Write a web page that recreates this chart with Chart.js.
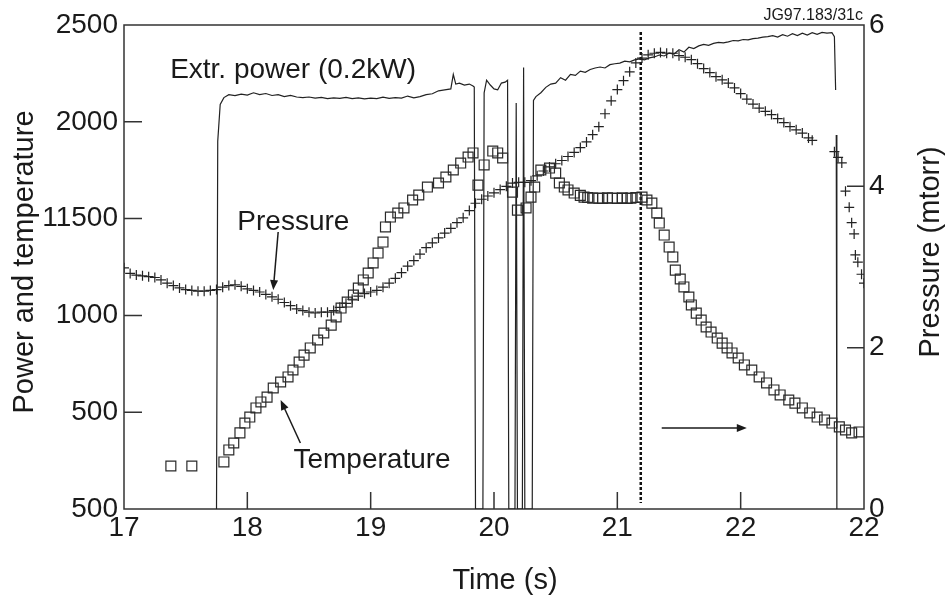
<!DOCTYPE html>
<html><head><meta charset="utf-8">
<script src="https://cdn.jsdelivr.net/npm/chart.js@4.4.1/dist/chart.umd.min.js"></script>
<style>html,body{margin:0;padding:0;background:#fff;overflow:hidden}</style>
</head><body>
<canvas id="c" width="946" height="600" style="display:block;width:946px;height:600px"></canvas>
<script>
// ---- tick labels (as printed on the figure) ----
const xTickValues = [17, 18, 19, 20, 21, 22, 23];
const xTickLabels = ['17', '18', '19', '20', '21', '22', '22'];
const leftTickValues = [0, 500, 1000, 1500, 2000, 2500];
const leftTickLabels = ['500', '500', '1000', '11500', '2000', '2500'];
const rightTickValues = [0, 2, 4, 6];
const rightTickLabels = ['0', '2', '4', '6'];

// ---- Extr. power (left axis units) ----
const powerTime = [17.75,17.76,17.78,17.81,17.85,17.90,17.95,18.00,18.05,18.10,18.15,18.20,18.25,18.30,18.35,18.40,18.45,18.50,18.55,18.60,18.65,18.70,18.75,18.80,18.85,18.90,18.95,19.00,19.05,19.10,19.15,19.20,19.25,19.30,19.35,19.40,19.45,19.50,19.55,19.60,19.65,19.67,19.69,19.72,19.76,19.80,19.83,19.84,19.85,19.91,19.92,19.94,19.97,20.00,20.03,20.06,20.09,20.11,20.12,20.17,20.18,20.19,20.23,20.24,20.25,20.31,20.32,20.34,20.38,20.42,20.46,20.50,20.54,20.58,20.62,20.66,20.70,20.74,20.78,20.82,20.86,20.90,20.94,20.98,21.02,21.06,21.10,21.14,21.18,21.22,21.26,21.30,21.34,21.38,21.42,21.46,21.50,21.54,21.58,21.62,21.66,21.70,21.74,21.78,21.82,21.86,21.90,21.94,21.98,22.02,22.06,22.10,22.14,22.18,22.22,22.26,22.30,22.34,22.38,22.42,22.46,22.50,22.54,22.58,22.62,22.66,22.70,22.74,22.76,22.77,22.772,22.775,22.78];
const powerValue = [0,1900,2090,2125,2140,2135,2143,2138,2150,2140,2146,2136,2140,2130,2136,2128,2125,2128,2122,2126,2120,2124,2121,2126,2120,2124,2118,2122,2120,2127,2121,2125,2122,2133,2124,2130,2140,2145,2160,2165,2170,2245,2195,2200,2190,2195,2185,2180,0,0,2150,2215,2190,2170,2165,2200,2205,2215,0,0,2097,0,0,2280,0,0,2110,2130,2150,2178,2195,2200,2228,2215,2245,2240,2262,2256,2270,2278,2283,2278,2295,2300,2303,2313,2310,2320,2325,2320,2330,2335,2345,2340,2355,2350,2372,2360,2385,2378,2392,2400,2395,2405,2410,2408,2413,2420,2418,2425,2423,2430,2432,2437,2440,2445,2438,2450,2442,2455,2445,2458,2448,2460,2452,2462,2458,2460,2440,2164,null,1932,0];

// ---- Pressure (mtorr, right axis) ----
const pressureTime = [17.00,17.05,17.10,17.15,17.20,17.25,17.30,17.35,17.40,17.45,17.50,17.55,17.60,17.65,17.70,17.75,17.80,17.85,17.90,17.95,18.00,18.05,18.10,18.15,18.20,18.25,18.30,18.35,18.40,18.45,18.50,18.55,18.60,18.65,18.70,18.75,18.80,18.85,18.90,18.95,19.00,19.05,19.10,19.15,19.20,19.25,19.30,19.35,19.40,19.45,19.50,19.55,19.60,19.65,19.70,19.75,19.80,19.85,19.90,19.95,20.00,20.05,20.10,20.15,20.20,20.25,20.30,20.35,20.40,20.45,20.50,20.55,20.60,20.65,20.70,20.75,20.80,20.85,20.90,20.95,21.00,21.05,21.10,21.15,21.20,21.25,21.30,21.35,21.40,21.45,21.50,21.55,21.60,21.65,21.70,21.75,21.80,21.85,21.90,21.95,22.00,22.05,22.10,22.15,22.20,22.25,22.30,22.35,22.40,22.45,22.50,22.55,22.58,22.76,22.79,22.82,22.85,22.88,22.90,22.92,22.93,22.95,22.98,23.00];
const pressureValue = [2.99,2.92,2.90,2.89,2.88,2.87,2.84,2.80,2.77,2.74,2.72,2.71,2.70,2.70,2.71,2.72,2.75,2.77,2.78,2.76,2.73,2.71,2.69,2.66,2.63,2.60,2.56,2.52,2.48,2.46,2.44,2.43,2.44,2.44,2.46,2.50,2.55,2.60,2.64,2.67,2.69,2.71,2.75,2.80,2.86,2.93,3.01,3.08,3.16,3.24,3.30,3.36,3.42,3.48,3.55,3.61,3.70,3.79,3.84,3.88,3.92,3.96,4.00,4.04,4.05,4.05,4.07,4.13,4.19,4.24,4.28,4.32,4.37,4.42,4.48,4.55,4.64,4.74,4.90,5.06,5.20,5.31,5.42,5.53,5.59,5.63,5.65,5.66,5.65,5.65,5.62,5.60,5.57,5.52,5.46,5.41,5.36,5.32,5.28,5.22,5.15,5.08,5.02,4.97,4.93,4.89,4.84,4.79,4.74,4.70,4.66,4.60,4.57,4.43,4.36,4.29,3.94,3.74,3.55,3.41,3.15,3.06,2.91,2.80];

// ---- Temperature (left axis) ----
const tempTime = [17.38,17.55,17.81,17.85,17.89,17.94,17.98,18.02,18.07,18.11,18.16,18.21,18.27,18.33,18.37,18.42,18.46,18.51,18.57,18.62,18.68,18.72,18.76,18.81,18.86,18.90,18.94,18.98,19.02,19.06,19.10,19.12,19.16,19.22,19.27,19.34,19.39,19.46,19.55,19.61,19.67,19.73,19.79,19.83,19.87,19.92,19.99,20.03,20.07,20.15,20.19,20.26,20.30,20.33,20.38,20.45,20.50,20.53,20.57,20.60,20.65,20.70,20.73,20.76,20.80,20.85,20.88,20.92,20.96,21.00,21.04,21.08,21.11,21.15,21.20,21.24,21.28,21.32,21.34,21.38,21.42,21.45,21.47,21.51,21.54,21.58,21.60,21.64,21.68,21.72,21.76,21.81,21.85,21.89,21.93,21.98,22.03,22.09,22.15,22.21,22.27,22.32,22.39,22.44,22.50,22.56,22.62,22.68,22.74,22.80,22.85,22.90,22.96];
const tempValue = [222,222,243,305,341,393,444,475,522,553,578,625,656,682,718,759,795,832,873,909,950,992,1038,1069,1105,1141,1183,1219,1271,1322,1379,1457,1508,1529,1555,1596,1622,1663,1684,1715,1751,1787,1818,1839,1673,1777,1849,1839,1813,1637,1544,1555,1611,1663,1751,1761,1735,1684,1663,1648,1632,1620,1611,1609,1606,1606,1604,1607,1606,1604,1607,1604,1606,1609,1611,1596,1580,1529,1477,1415,1353,1302,1234,1188,1147,1095,1054,1012,976,940,914,883,857,832,806,780,744,718,682,651,615,589,563,547,522,496,475,460,444,424,408,393,398];

// vertical dashed marker time
const markerTime = 21.19;

// annotations (data coordinates on x / left axis)
const annoTexts = [
  {text: 'Extr. power (0.2kW)', t: 17.374, v: 2227},
  {text: 'Pressure', t: 17.919, v: 1441},
  {text: 'Temperature', t: 18.374, v: 212}
];
const annoArrows = [
  {t1: 18.25, v1: 1431, t2: 18.21, v2: 1131},
  {t1: 18.43, v1: 341, t2: 18.27, v2: 563},
  {t1: 21.36, v1: 418, t2: 22.05, v2: 418}
];

const FONT = "'Liberation Sans', Arial, Helvetica, sans-serif";
const INK = '#1a1a1a';

const zip = (xs, ys) => xs.map((x, i) => ({x: x, y: ys[i]}));

const deco = {
  id: 'deco',
  beforeDatasetsDraw(chart) {
    const ctx = chart.ctx, a = chart.chartArea;
    const sx = chart.scales.x, sy = chart.scales.y, sy1 = chart.scales.y1;
    ctx.save();
    ctx.strokeStyle = '#333';
    ctx.lineWidth = 1.5;
    ctx.strokeRect(a.left, a.top, a.right - a.left, a.bottom - a.top);
    ctx.lineWidth = 1.5;
    ctx.beginPath();
    xTickValues.slice(1, -1).forEach(v => {
      const p = sx.getPixelForValue(v);
      ctx.moveTo(p, a.bottom); ctx.lineTo(p, a.bottom - 17);
    });
    leftTickValues.slice(1, -1).forEach(v => {
      const p = sy.getPixelForValue(v);
      ctx.moveTo(a.left, p); ctx.lineTo(a.left + 18, p);
    });
    rightTickValues.slice(1, -1).forEach(v => {
      const p = sy1.getPixelForValue(v);
      ctx.moveTo(a.right, p); ctx.lineTo(a.right - 17, p);
    });
    ctx.stroke();
    // dashed marker
    const mx = sx.getPixelForValue(markerTime);
    ctx.setLineDash([3, 2]);
    ctx.lineWidth = 2.5;
    ctx.strokeStyle = '#111';
    ctx.beginPath();
    ctx.moveTo(mx, a.top + 7); ctx.lineTo(mx, a.bottom - 6);
    ctx.stroke();
    ctx.restore();
  },
  afterDatasetsDraw(chart) {
    const ctx = chart.ctx, a = chart.chartArea;
    const sx = chart.scales.x, sy = chart.scales.y;
    ctx.save();
    ctx.fillStyle = INK;
    ctx.font = '28px ' + FONT;
    ctx.textBaseline = 'alphabetic';
    ctx.textAlign = 'left';
    annoTexts.forEach(o => ctx.fillText(o.text, sx.getPixelForValue(o.t), sy.getPixelForValue(o.v)));
    ctx.strokeStyle = INK;
    ctx.lineWidth = 1.5;
    annoArrows.forEach(o => {
      const x1 = sx.getPixelForValue(o.t1), y1 = sy.getPixelForValue(o.v1);
      const x2 = sx.getPixelForValue(o.t2), y2 = sy.getPixelForValue(o.v2);
      const ang = Math.atan2(y2 - y1, x2 - x1);
      const L = 10, W = 4;
      ctx.beginPath();
      ctx.moveTo(x1, y1);
      ctx.lineTo(x2 - Math.cos(ang) * L * 0.8, y2 - Math.sin(ang) * L * 0.8);
      ctx.stroke();
      ctx.beginPath();
      ctx.moveTo(x2, y2);
      ctx.lineTo(x2 - Math.cos(ang) * L - Math.sin(ang) * W, y2 - Math.sin(ang) * L + Math.cos(ang) * W);
      ctx.lineTo(x2 - Math.cos(ang) * L + Math.sin(ang) * W, y2 - Math.sin(ang) * L - Math.cos(ang) * W);
      ctx.closePath();
      ctx.fill();
    });
    // figure id
    ctx.font = '16px ' + FONT;
    ctx.textAlign = 'right';
    ctx.fillText('JG97.183/31c', a.right - 1, a.top - 5);
    // axis titles
    ctx.font = '29px ' + FONT;
    ctx.textAlign = 'center';
    ctx.fillText('Time (s)', 505, 589);
    ctx.save();
    ctx.translate(33, 262);
    ctx.rotate(-Math.PI / 2);
    ctx.fillText('Power and temperature', 0, 0);
    ctx.restore();
    ctx.save();
    ctx.translate(939, 252);
    ctx.rotate(-Math.PI / 2);
    ctx.fillText('Pressure (mtorr)', 0, 0);
    ctx.restore();
    ctx.restore();
  }
};

const tickFont = {size: 28, family: FONT};

new Chart(document.getElementById('c'), {
  type: 'scatter',
  data: {
    datasets: [
      {
        label: 'Temperature',
        data: zip(tempTime, tempValue),
        yAxisID: 'y',
        showLine: false,
        pointStyle: 'rect',
        pointRadius: 7,
        pointBorderWidth: 1.2,
        pointBorderColor: '#2a2a2a',
        pointBackgroundColor: 'rgba(0,0,0,0)',
        order: 1
      },
      {
        label: 'Pressure',
        data: zip(pressureTime, pressureValue),
        yAxisID: 'y1',
        showLine: false,
        pointStyle: 'cross',
        pointRadius: 5,
        pointBorderWidth: 1.2,
        pointBorderColor: '#222',
        order: 2
      },
      {
        label: 'Extr. power (0.2kW)',
        type: 'line',
        data: zip(powerTime, powerValue),
        yAxisID: 'y',
        borderColor: '#222',
        borderWidth: 1.2,
        pointRadius: 0,
        tension: 0,
        spanGaps: false,
        fill: false,
        order: 3
      }
    ]
  },
  options: {
    responsive: false,
    animation: false,
    devicePixelRatio: 1,
    layout: {padding: {top: 25, left: 0, right: 0, bottom: 0}},
    plugins: {legend: {display: false}, tooltip: {enabled: false}, title: {display: false}},
    scales: {
      x: {
        type: 'linear', position: 'bottom', min: 17, max: 23,
        afterBuildTicks: s => { s.ticks = xTickValues.map(v => ({value: v})); },
        afterFit: s => { s.height = 91; },
        ticks: {
          callback: (v, i) => xTickLabels[i],
          font: tickFont, color: INK, padding: 2, maxRotation: 0, autoSkip: false
        },
        grid: {display: false, drawTicks: false},
        border: {display: false}
      },
      y: {
        type: 'linear', position: 'left', min: 0, max: 2500,
        afterBuildTicks: s => { s.ticks = leftTickValues.map(v => ({value: v})); },
        afterFit: s => { s.width = 124; },
        ticks: {
          callback: (v, i) => leftTickLabels[i],
          font: tickFont, color: INK, padding: 6, autoSkip: false
        },
        grid: {display: false, drawTicks: false},
        border: {display: false}
      },
      y1: {
        type: 'linear', position: 'right', min: 0, max: 6,
        afterBuildTicks: s => { s.ticks = rightTickValues.map(v => ({value: v})); },
        afterFit: s => { s.width = 82; },
        ticks: {
          callback: (v, i) => rightTickLabels[i],
          font: tickFont, color: INK, padding: 5, autoSkip: false
        },
        grid: {display: false, drawTicks: false},
        border: {display: false}
      }
    }
  },
  plugins: [deco]
});
</script>
</body></html>
